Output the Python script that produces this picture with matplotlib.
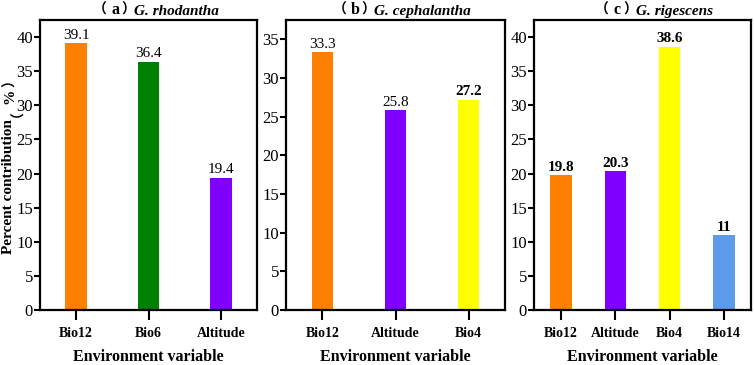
import matplotlib
matplotlib.use('Agg')
import matplotlib.pyplot as plt
from matplotlib.transforms import offset_copy

plt.rcParams['font.family'] = ['Liberation Serif', 'Noto Sans CJK SC']

# данные по трём видам
vars_a = ['Bio12', 'Bio6', 'Altitude']
vals_a = [39.1, 36.4, 19.4]
cols_a = ['#FF8000', '#008000', '#8000FF']

vars_b = ['Bio12', 'Altitude', 'Bio4']
vals_b = [33.3, 25.8, 27.2]
cols_b = ['#FF8000', '#8000FF', '#FFFF00']
bold_b = [False, False, True]

vars_c = ['Bio12', 'Altitude', 'Bio4', 'Bio14']
vals_c = [19.8, 20.3, 38.6, 11]
cols_c = ['#FF8000', '#8000FF', '#FFFF00', '#5B9BEA']

titles = ['G. rhodantha', 'G. cephalantha', 'G. rigescens']
letters = ['a', 'b', 'c']
split = [0.4286, 0.397, 0.465]  # где начинается имя вида

cjk = ['Noto Sans CJK SC']

fig = plt.figure(figsize=(7.54, 3.65), dpi=100)
bottom, height = 0.1507, 0.7945
ax_a = fig.add_axes([0.0531, bottom, 0.2878, height])
ax_b = fig.add_axes([0.3793, bottom, 0.2905, height])
ax_c = fig.add_axes([0.7082, bottom, 0.2878, height])

panels = [
    (ax_a, vars_a, vals_a, cols_a, [False] * 3, 0.3, 42.5),
    (ax_b, vars_b, vals_b, cols_b, bold_b, 0.3, 37.5),
    (ax_c, vars_c, vals_c, cols_c, [True] * 4, 0.4, 42.5),
]


def piece(where, x, y, s, dx, dy=0, **kw):
    # кусок текста со сдвигом в пикселях
    base = fig.transFigure if where is fig else where.transAxes
    tr = offset_copy(base, fig=fig, x=dx, y=dy, units='dots')
    where.text(x, y, s, transform=tr, ha='center', va='center', **kw)


for i, (ax, names, vals, cols, bolds, w, ymax) in enumerate(panels):
    xs = range(len(names))
    ax.bar(xs, vals, width=w, color=cols)
    for x, v, b in zip(xs, vals, bolds):
        txt = str(v) if v != int(v) else str(int(v))
        ax.text(x, v + 0.2, txt, ha='center', va='bottom', fontsize=11,
                fontweight='bold' if b else 'normal')
    ax.set_xlim(-0.5, len(names) - 0.5)
    ax.set_ylim(0, ymax)
    ax.set_yticks(range(0, int(ymax) + 1, 5))
    ax.set_xticks(list(xs))
    ax.set_xticklabels(names, fontsize=10, fontweight='bold')
    ax.tick_params(axis='y', labelsize=12, width=1.5, length=4, pad=1)
    ax.tick_params(axis='x', width=1.5, length=7, pad=5)
    for s in ax.spines.values():
        s.set_linewidth(1.6)
    ax.set_xlabel('Environment variable', fontsize=11.5, fontweight='bold', labelpad=7)

    # заголовок: (x) + курсивное имя вида
    piece(ax, split[i], 1.0, '（', -33, 10, fontsize=10, fontweight='bold', family=cjk)
    piece(ax, split[i], 1.0, letters[i], -18, 10, fontsize=11.5, fontweight='bold')
    piece(ax, split[i], 1.0, '）', -5, 10, fontsize=10, fontweight='bold', family=cjk)
    ax.text(split[i] + 0.005, 1.017, titles[i], transform=ax.transAxes,
            fontsize=11, fontweight='bold', style='italic', ha='left', va='baseline')

fig.text(9 / 754, 1 - 187 / 365, 'Percent contribution', rotation=90,
         fontsize=11, fontweight='bold', ha='center', va='center')
piece(fig, 10 / 754, 1 - 110.5 / 365, '（', 0, rotation=90, family=cjk,
      fontsize=10, fontweight='bold')
piece(fig, 10 / 754, 1 - 96 / 365, '%', 0, rotation=90,
      fontsize=11, fontweight='bold')
piece(fig, 10 / 754, 1 - 80 / 365, '）', 0, rotation=90, family=cjk,
      fontsize=10, fontweight='bold')

plt.savefig('out.png', dpi=100)
